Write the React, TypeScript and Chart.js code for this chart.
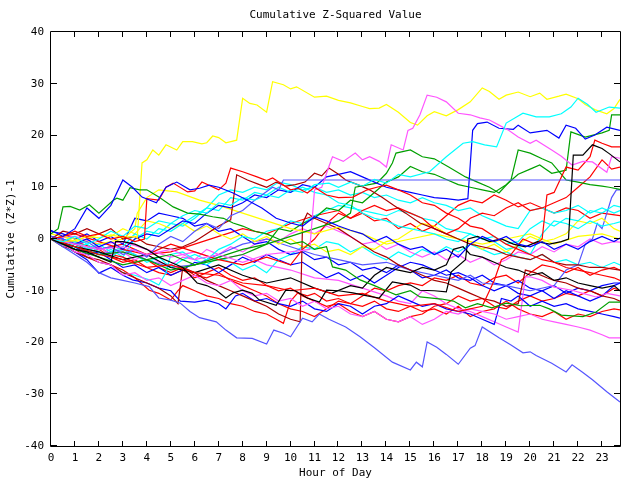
import React, { useEffect, useRef } from "react";
import { Chart, registerables } from "chart.js";

Chart.register(...registerables);

const TITLE = "Cumulative Z-Squared Value";
const X_TITLE = "Hour of Day";
const Y_TITLE = "Cumulative (Z*Z)-1";
const HOUR_TICKS = [0, 1, 2, 3, 4, 5, 6, 7, 8, 9, 10, 11, 12, 13, 14, 15, 16, 17, 18, 19, 20, 21, 22, 23];
const VALUE_TICKS = [-40, -30, -20, -10, 0, 10, 20, 30, 40];
const X_MAX = 23.75;

// each series: [hour, value, hour, value, ...]
const yellowTop = [0,0, 0.5,-0.5, 1,-0.3, 1.5,0.5, 2,0.2, 2.5,0.8, 3,0.3, 3.5,0.5, 3.6,0.2, 3.8,14.7, 4,15.3, 4.25,17.2, 4.5,16.2, 4.8,18.2, 5.25,17.2, 5.5,18.8, 5.9,18.8, 6.3,18.4, 6.5,18.6, 6.75,19.9, 7,19.6, 7.3,18.6, 7.75,19.1, 8,27.2, 8.3,26.2, 8.6,25.9, 9,24.5, 9.25,30.4, 9.7,29.8, 10,29, 10.25,29.4, 11,27.4, 11.5,27.6, 12,26.8, 12.5,26.3, 13,25.6, 13.3,25.2, 13.7,25.3, 14,26, 14.5,24.5, 15,22.5, 15.3,22, 15.7,23.8, 16,24.6, 16.5,23.8, 17,25, 17.5,26.5, 18,29.2, 18.3,28.5, 18.7,27, 19,27.8, 19.5,28.4, 20,27.5, 20.4,28.2, 20.7,27, 21.2,27.6, 21.5,28, 22,27.1, 22.3,26, 22.7,25, 23.2,24.2, 23.5,25.2, 23.75,27];
const slateLow = [0,0, 0.5,-1.5, 1,-3, 1.5,-4.5, 2,-6.5, 2.5,-7.5, 3,-8, 3.5,-8.5, 4.1,-9.2, 4.5,-11.4, 5,-11.8, 5.4,-12.4, 5.8,-14, 6.2,-15.2, 6.9,-16, 7.3,-17.6, 7.75,-19.1, 8.4,-19.2, 9,-20.3, 9.3,-17.6, 9.7,-18.2, 10,-18.9, 10.5,-15.3, 10.9,-16, 11.2,-14.5, 11.6,-15.5, 12.3,-17, 12.9,-18.9, 13.5,-21, 14.25,-23.8, 15,-25.3, 15.25,-23.8, 15.5,-24.7, 15.7,-19.9, 16.1,-20.9, 16.5,-22.3, 17,-24.2, 17.5,-21.1, 17.7,-20.6, 18,-17, 18.7,-19.1, 19.2,-20.5, 19.7,-22, 20,-21.8, 20.25,-22.5, 20.9,-24, 21.5,-25.7, 21.75,-24.3, 22.2,-25.8, 22.6,-27.2, 23.2,-29.5, 23.75,-31.5];
const slateFlat = [0,0.5, 0.5,0, 1,-1, 1.5,-0.5, 2,-2, 2.5,-1.5, 3,-3, 3.5,-2, 4,-3.5, 4.5,-1, 5,0.5, 5.5,-0.5, 6,1.5, 6.5,3, 7,2, 7.5,4.5, 8,5.5, 8.5,7.5, 8.8,8.5, 9.25,10, 9.5,9.5, 9.7,11.4, 23.75,11.4];
const cyanHigh = [0,0, 0.5,-0.5, 1,0.5, 1.5,-1, 2,0, 2.5,1.5, 3,0.5, 3.5,2.5, 4,2, 4.5,3.5, 5,3, 5.5,4.5, 6,5.5, 6.5,5, 7,7, 7.5,6.5, 8,8, 8.5,7.5, 9,8.5, 9.5,8, 10,9.5, 10.5,9, 11,10.5, 11.6,10.8, 12,10, 12.5,11, 13,10.2, 13.5,11.5, 14,10.8, 14.5,12.5, 15,12, 15.8,13, 16.5,15.9, 17.2,18.5, 17.6,18.8, 18.1,18.2, 18.6,17.8, 19,22.4, 19.7,24.3, 20.25,23.6, 20.8,23.6, 21.3,24.2, 21.7,25.5, 22,27.2, 22.4,26, 22.75,24.5, 23.3,25.5, 23.75,25.3];
const magentaHigh = [0,0, 1,-1, 2,-2, 3,-1.5, 4,-3, 5,-2, 6,-4, 7,-3, 8,-4.5, 9,-3, 10,-2.5, 10.8,-2, 11,9.5, 11.3,10, 11.6,14, 11.75,15.9, 12.2,15, 12.7,16.6, 13,15.3, 13.3,15.9, 13.7,15, 14,13.9, 14.2,18.2, 14.7,17.2, 14.9,21, 15.1,21.4, 15.4,24, 15.7,27.8, 16.1,27.4, 16.5,26.5, 17,24.3, 17.5,24, 17.9,23.4, 18.3,23, 18.7,22, 19.1,21, 19.5,19.7, 20,18.5, 20.25,19.1, 20.9,17.2, 21.3,16, 21.75,14.3, 22.2,15, 22.6,14.9, 23.2,12.9, 23.4,15.9, 23.75,15.6];
const blueHigh = [0,0.5, 0.5,0, 1,-1, 1.5,0, 2,-1.5, 2.5,-0.5, 3,-2, 3.5,0, 4,1, 4.5,0.5, 5,2, 5.5,3.5, 6,3, 6.5,5, 7,6.5, 7.5,6, 8,7, 8.5,8.5, 9,8, 9.5,9.5, 10,9, 10.5,10.5, 11,10, 11.5,12, 12,12.5, 12.5,13, 13,12, 13.5,11, 14,10, 14.5,9.5, 15,9, 15.5,8.5, 16,8, 16.5,7.8, 17,7.5, 17.4,7.8, 17.6,21, 17.8,22.3, 18.2,22.6, 18.7,21.4, 19.3,21.2, 19.5,22, 20,20.5, 20.7,21, 21.2,19.5, 21.5,22, 21.9,21.4, 22.3,19.3, 22.7,20.1, 23.2,21.6, 23.75,21];
const greenTop = [0,0, 1,-1.5, 2,-3, 3,-2.5, 4,-4, 5,-3, 6,-5, 7,-4, 8,-3, 8.5,-2, 9,-1, 9.5,2, 10,1.5, 10.5,3, 11,4, 11.5,6, 12,5.5, 12.5,7.5, 13,7, 13.5,9, 14,11, 14.5,12, 15,14, 15.5,13, 16,12.5, 16.5,11.5, 17,10.5, 17.5,10, 18,9.5, 18.5,9, 19,10.5, 19.5,12.5, 20,13.5, 20.4,14.3, 20.9,12.7, 21.5,13.3, 21.7,20.7, 22.3,19.7, 23,20.5, 23.3,21, 23.4,24, 23.75,24];
const greenMid = [0,0, 1,-2, 2,-3.5, 3,-5, 4,-4, 5,-6, 6,-5, 7,-3.5, 8,-2, 9,-1, 10,0.5, 11,2, 12,3.5, 12.5,5, 12.7,10, 13.6,10.8, 14,12.7, 14.25,14.7, 14.4,16.6, 15,17.2, 15.5,15.9, 16,15.5, 16.6,13.9, 17.3,12, 17.8,11, 18.3,10, 18.7,8.9, 19.2,11.4, 19.5,17.2, 20,16.6, 20.5,15.5, 20.9,14.7, 21.5,11.4, 22,11, 22.5,10.5, 23,10.2, 23.3,10, 23.75,9.6];
const greenEarly = [0,1, 0.3,2, 0.5,6.2, 0.8,6.3, 1.2,5.6, 1.6,6.6, 2,5, 2.6,7.5, 2.75,7.9, 3,7.5, 3.3,9.9, 3.7,9.5, 4,9.5, 4.5,8.1, 5.1,6.2, 5.7,5, 6.2,4.8, 6.75,4.3, 7.2,4, 7.6,3.1, 8,2.5, 8.5,1.5, 9,1, 9.5,0, 10,-1, 10.5,-0.5, 11,-2, 11.5,-1.5, 11.75,-5.4, 12.3,-6, 12.9,-7.9, 13.5,-9, 14,-10, 14.4,-10.8, 15,-10, 15.4,-11.2, 16.3,-11.6, 16.8,-12, 17.3,-13.3, 17.8,-12.5, 18.4,-13.3, 19,-12.4, 19.6,-12.9, 20.4,-12.8, 20.8,-13.5, 21.3,-14.7, 22.2,-15, 22.75,-14.1, 23.3,-12.2, 23.75,-12.2];
const redTop = [0,0, 0.5,0.5, 1,1.5, 1.5,0.5, 2,1, 2.5,0, 3,0.5, 3.5,-0.5, 3.9,0, 4,7.8, 4.5,7.5, 4.8,10, 5.1,10.8, 5.7,9.1, 6,9.3, 6.3,11, 7,9.5, 7.3,10.8, 7.5,13.7, 8,13, 8.6,12, 9,11.3, 9.25,11.8, 10,9.5, 10.3,9.8, 10.7,8.9, 11,10, 11.5,8.5, 12,8, 12.6,8.1, 13.2,9.5, 13.6,10, 14,10.4, 14.5,9.5, 15,8.5, 15.5,7, 16,6.5, 16.5,5, 17,4, 17.5,2.5, 18,2, 18.5,0.5, 19,-1, 19.5,-2, 20,-3, 20.5,-4, 21,-4.5, 21.5,-5.5, 22,-6, 22.5,-6.5, 23,-7, 23.5,-7.5, 23.75,-8];
const darkRedTop = [0,0, 0.5,1.5, 1,1, 1.5,2, 2,1, 2.5,2, 3,0, 3.5,0.5, 4,-1, 4.5,-1.5, 5,-2, 5.5,-1.5, 6,-0.5, 6.5,1, 7,2.5, 7.5,3.7, 7.75,12.4, 8.2,11.4, 8.7,10.5, 9,10, 9.4,11, 9.8,10.2, 10.2,10.5, 10.6,11, 11,12.7, 11.3,12.2, 11.6,13.7, 12,12.5, 12.3,11.4, 12.8,10.5, 13.3,9.5, 13.8,8.1, 14.3,6.5, 14.8,5, 15.4,3.1, 16,2, 16.5,1, 17,0, 17.5,-1, 18,-1.5, 18.5,-2, 19,-3, 19.5,-3.5, 20,-4, 20.5,-3, 21,-4.5, 21.5,-5, 22,-5, 22.5,-5.5, 23,-5.5, 23.75,-6];
const redJump = [0,0, 1,-1.5, 2,-3, 3,-4, 4,-5.5, 5,-5, 6,-6.5, 7,-7, 8,-8.5, 9,-9, 10,-10, 11,-9.5, 12,-11, 13,-10.5, 14,-12, 15,-13, 16,-12.5, 17,-14, 18,-13, 18.5,-8, 18.8,-4, 19.2,-3, 19.7,0, 20.2,-1, 20.5,0, 20.7,8.5, 21,9, 21.5,13.9, 22,13.3, 22.5,15.9, 22.7,19.1, 23,18.5, 23.4,17.8, 23.75,17.8];
const redMid = [0,0, 1,1, 2,-0.5, 3,-2, 4,-3, 5,-1, 6,-2.5, 7,-4, 8,-5, 9,-3.5, 10,-5, 10.5,-2, 11,0, 11.5,3, 12,5, 12.5,4, 13,5.5, 13.5,6.5, 14,5.5, 14.5,6, 15,5, 15.5,4, 16,2, 16.5,1, 17,2, 17.5,4, 18,5, 18.5,4.5, 19,6, 19.5,7, 20,5.5, 20.5,6, 21,7, 21.5,8, 22,10, 22.5,12, 23,15.3, 23.4,13.5, 23.75,13.9];
const redUpper = [0,0, 1,-0.5, 2,-2, 3,-1, 4,-3, 5,-2.5, 6,-1, 7,0.5, 8,2, 9,1, 10,3, 11,4.5, 12,5.5, 12.5,4, 13,5, 13.5,3.5, 14,4, 14.5,2, 15,3, 15.5,1.5, 16,2.5, 16.5,4.5, 17,6.5, 17.5,7.5, 18,7, 18.5,8.5, 19,7.5, 19.5,6.2, 20,7, 20.5,6, 21,5, 21.5,6, 22,5.5, 22.5,4, 23,5, 23.75,4.5];
const blackJump = [0,0, 0.5,-1, 1,-2, 1.5,-2.5, 2,-3.5, 2.5,-4.5, 2.7,-0.5, 3,-0.5, 3.5,-1, 4,-2, 4.5,-3.5, 5,-4.5, 5.5,-5.5, 6.1,-8.5, 6.5,-9, 6.9,-9.9, 7.3,-11.4, 7.6,-10.4, 8,-9.9, 8.4,-10.5, 8.7,-11.8, 9.4,-12.8, 9.8,-9.9, 10.2,-10, 10.7,-11.4, 11.2,-12.2, 11.5,-9.9, 12,-10, 12.6,-10.4, 13.2,-11, 13.7,-11.4, 14.25,-8.3, 15,-8.9, 15.4,-9.9, 16,-10, 16.5,-10.2, 16.7,-6.4, 17.3,-4, 17.4,0, 17.8,0.5, 18.3,-0.5, 18.8,0, 19.3,-1, 19.8,-1.5, 20.3,-0.5, 20.8,-1, 21.3,-0.5, 21.6,0, 21.8,16.2, 22.2,16.2, 22.6,18.2, 23,17.5, 23.3,16.5, 23.75,14.9];
const blackLow = [0,0, 1,-1.5, 2,-2.5, 3,-4, 4,-3, 5,-5.5, 6,-6.5, 7,-5, 8,-7, 9,-8.5, 10,-7.5, 11,-9.5, 11.7,-10.5, 12.5,-9, 13,-9.5, 13.5,-7, 14,-5.5, 14.5,-6, 15,-6.5, 15.5,-5.5, 16,-6, 16.5,-5, 16.8,-2, 17.2,-1.5, 17.5,-3, 18,-3.5, 18.5,-4.5, 19,-5.5, 19.5,-6, 20,-7, 20.5,-6.5, 21,-8, 21.5,-7.5, 22,-8.5, 22.5,-9, 23,-9.5, 23.5,-9, 23.75,-10];
const blueLow = [0,0, 0.5,-1, 1,-2.5, 1.5,-4, 2,-6.6, 2.5,-5.5, 3,-7, 3.4,-7.9, 4,-8.5, 4.5,-9.5, 5,-10, 5.4,-12, 6,-12.2, 6.5,-11.8, 7,-12.5, 7.3,-13.5, 7.7,-11, 8,-10.5, 8.5,-12, 9,-11.5, 9.5,-12.5, 10,-13, 10.5,-12, 11,-13.5, 11.5,-14, 12,-12.5, 12.5,-13, 13,-14.5, 13.5,-13, 14,-12.5, 14.5,-11, 15,-12, 15.5,-13, 16,-12.5, 16.5,-13.5, 17,-14, 17.5,-14.5, 18,-15.5, 18.5,-16.5, 18.8,-11.5, 19.2,-12, 19.5,-11, 20,-13, 20.5,-12, 21,-13, 21.5,-12.5, 22,-13.5, 22.5,-14, 23,-14.5, 23.5,-15, 23.75,-15.3];
const magentaLow = [0,0, 0.5,-1, 1,-2.5, 1.5,-3, 2,-4.5, 2.5,-5, 3,-7, 3.5,-6.5, 4,-8, 4.5,-7.5, 5,-9, 5.5,-8, 6,-7, 6.5,-8.5, 7,-9, 7.5,-8, 8,-10, 8.5,-11, 9,-10.5, 9.5,-12, 10,-11.5, 10.5,-13, 11,-12, 11.5,-13.5, 12,-13, 12.5,-14.5, 13,-15, 13.5,-14, 14,-15.5, 14.5,-16, 15,-15, 15.5,-16.5, 16,-15.5, 16.5,-14, 17,-14.5, 17.5,-13.5, 18,-14, 18.5,-14.5, 19,-15.5, 19.5,-15, 20,-14.5, 20.5,-15.5, 21,-16, 21.5,-16.5, 22,-17, 22.5,-17.6, 23,-18.5, 23.3,-19.1, 23.75,-19.1];
const magentaJump = [0,0, 1,0.5, 2,-1, 3,-0.5, 4,-2, 5,-3.5, 6,-2.5, 7,-4, 8,-3, 9,-5, 10,-6, 11,-7.5, 12,-8, 13,-9.5, 14,-11, 14.5,-12, 15,-12.5, 15.5,-10, 16,-11, 16.5,-12.5, 17,-13.5, 17.5,-14, 18,-15, 18.5,-16, 19,-17, 19.5,-18, 19.8,-7.3, 20,-7.3, 20.5,-8, 21,-9.3, 21.75,-9.9, 22.2,-10.5, 22.75,-11.2, 23.2,-10.5, 23.75,-11];
const cyanUpper = [0,0, 0.5,-0.5, 1,-2, 1.5,-1.5, 2,-3, 2.5,-2, 3,-3.5, 3.5,0, 4,1.5, 4.5,1, 5,3, 5.5,2.5, 6,4, 6.5,6, 7,8.5, 7.5,9.5, 8,9, 8.5,10, 9,9.5, 9.5,11, 10,10.5, 10.5,9.5, 11,10, 11.5,9, 12,9.5, 12.5,8.5, 13,9, 13.5,8, 14,8.5, 14.5,7.5, 15,7, 15.5,8, 16,7, 16.5,6.5, 17,5.5, 17.5,6, 18,4.5, 18.5,3.5, 19,2.5, 19.5,2, 20,5.5, 20.5,6, 21,5, 21.5,5.5, 22,6.5, 22.5,5, 23,6, 23.5,5, 23.75,5.5];
const cyanMidA = [0,0, 0.5,-1, 1,-0.5, 1.5,-2, 2,-1, 2.5,-2.5, 3,-1.5, 3.5,1, 4,0, 4.5,2, 5,1.5, 5.5,3, 6,4.5, 6.5,6, 7,5.5, 7.5,8, 8,7.5, 8.5,9, 9,8.5, 9.5,10, 10,9, 10.5,10, 11,9, 11.5,8.5, 12,7, 12.5,6.5, 13,5, 13.5,4, 14,3.5, 14.5,2.5, 15,2, 15.5,1.5, 16,1, 16.5,0, 17,-0.5, 17.5,1, 18,0, 18.5,0.5, 19,-1, 19.5,-0.5, 20,2, 20.5,3.5, 21,2.5, 21.5,4, 22,3.5, 22.5,5.5, 23,5, 23.5,6.5, 23.75,6.2];
const cyanMidB = [0,0.5, 0.5,0, 1,-1.5, 1.5,-1, 2,-2.5, 2.5,-3.5, 3,-2, 3.5,-3, 4,-4.5, 4.5,-3.5, 5,-5.5, 5.5,-4, 6,-3, 6.5,-4, 7,-2, 7.5,-1, 8,0.5, 8.5,0, 9,1.5, 9.5,2, 10,3.5, 10.5,3, 11,4.5, 11.5,5.5, 12,6.5, 12.5,6, 13,5.5, 13.5,5, 14,4.5, 14.5,5.5, 15,5, 15.5,4, 16,3.5, 16.5,2, 17,1.5, 17.5,1, 18,0, 18.5,-0.5, 19,-2, 19.5,-1.5, 20,-3, 20.5,1, 21,3.5, 21.5,3, 22,2, 22.5,3.5, 23,2.5, 23.5,3, 23.75,3.3];
const cyanLow = [0,0, 0.5,-1.5, 1,-2.5, 1.5,-3.5, 2,-4.5, 2.5,-5, 3,-6.5, 3.5,-7, 4.1,-7.9, 4.5,-8.9, 4.8,-6.5, 5,-3, 5.5,-2.5, 6,-4, 6.5,-5, 7,-3.5, 7.5,-4.5, 8,-6, 8.5,-5, 9,-6.5, 9.5,-4, 10,-3, 10.5,-1.5, 11,-2, 11.5,-0.5, 12,-1, 12.5,-2.5, 13,-1.5, 13.5,-3, 14,-4, 14.5,-2.5, 15,-3.5, 15.5,-2, 16,-3, 16.5,-1.5, 17,-2.5, 17.5,-1, 18,-2, 18.5,-3, 19,-2.5, 19.5,-3.5, 20,-4, 20.5,-3, 21,-4.5, 21.5,-4, 22,-5, 22.5,-4.5, 23,-5.5, 23.5,-4.5, 23.75,-5];
const redLowA = [0,0, 0.5,-1.5, 1,-2, 1.5,-3.5, 2,-4.5, 2.5,-5, 3,-6, 3.5,-7.5, 4.1,-9.9, 4.5,-10.5, 5,-11.8, 5.3,-10, 5.5,-9, 6,-10, 6.5,-11, 7,-11.5, 7.5,-12.5, 8,-13, 8.5,-14, 9,-14.5, 9.4,-15.5, 9.7,-16.3, 10,-12, 10.3,-10.4, 10.7,-11, 11,-10.5, 11.5,-12, 12,-11.5, 12.5,-12.5, 13,-13, 13.5,-12, 14,-13.5, 14.5,-14, 15,-13, 15.5,-14, 16,-13.5, 16.5,-14.5, 17,-13, 17.5,-15, 18,-14, 18.5,-13.5, 19,-12, 19.5,-13.5, 20,-14.5, 20.5,-15, 21,-14, 21.5,-15.5, 22,-14.5, 22.5,-15, 23,-14, 23.5,-13.5, 23.75,-13.7];
const redLowB = [0,0, 0.5,-0.5, 1,-1, 1.5,-2, 2,-1.5, 2.5,-3, 3,-3.5, 3.5,-4.5, 4,-4, 4.5,-5.5, 5,-6.5, 5.5,-5.5, 6,-7, 6.5,-7.5, 7,-6.5, 7.5,-8, 8,-9, 8.5,-10, 9,-11, 9.5,-12.5, 10,-13.5, 10.5,-14, 11,-15, 11.5,-13.5, 12,-12, 12.5,-12.5, 13,-11, 13.5,-9.5, 14,-10, 14.5,-9, 15,-8.5, 15.5,-9, 16,-7.5, 16.5,-8, 17,-7, 17.5,-8.5, 18,-9, 18.5,-7.5, 19,-7, 19.5,-8.5, 20,-6.5, 20.5,-5, 21,-5.5, 21.5,-6.5, 22,-5.5, 22.5,-7, 23,-6, 23.5,-5.5, 23.75,-6];
const redLowC = [0,0, 0.5,-1, 1,-1.5, 1.5,-2.5, 2,-2, 2.5,-3.5, 3,-4.5, 3.5,-4, 4,-5.5, 4.5,-6.5, 5,-7, 5.5,-6, 6,-7.5, 6.5,-6.5, 7,-5.5, 7.5,-7, 8,-8, 8.5,-7.5, 9,-9, 9.5,-10, 10,-9.5, 10.5,-11, 11,-12, 11.5,-13, 12,-12.5, 12.5,-14, 13,-15, 13.5,-14, 14,-15.5, 14.5,-16, 15,-15, 15.5,-14.5, 16,-13, 16.5,-12.5, 17,-11, 17.5,-12, 18,-11.5, 18.5,-13, 19,-13.5, 19.5,-12, 20,-11, 20.5,-12, 21,-11.5, 21.5,-10.5, 22,-11, 22.5,-10, 23,-11, 23.5,-9.5, 23.75,-10];
const darkRedLow = [0,0, 0.5,-1, 1,-2.5, 1.5,-3.5, 2,-4, 2.5,-5, 3,-6.5, 3.5,-7.5, 4,-8.5, 4.5,-9.5, 5,-11, 5.3,-12.5, 5.5,-5.5, 6,-6.5, 6.5,-8, 7,-9, 7.5,-10, 8,-11, 8.5,-12, 9,-13, 9.5,-14.5, 10,-15.5, 10.4,-16, 10.5,3, 10.7,5, 11,4, 11.5,3, 12,2, 12.5,0.5, 13,-1, 13.5,-2.5, 14,-3.5, 14.5,-5, 15,-6, 15.5,-7, 16,-8, 16.5,-8.5, 17,-9.5, 17.5,-10.5, 18,-11.5, 18.5,-12, 19,-13, 19.5,-12.5, 19.8,-6, 20.2,-6.5, 20.7,-7.5, 21,-8, 21.5,-8.5, 22,-9.5, 22.5,-10, 23,-11, 23.5,-11.5, 23.75,-12];
const blueMidA = [0,1.5, 0.5,1, 1,0, 1.5,1, 2,-0.5, 2.5,0.5, 3,-1, 3.5,4, 4,3.5, 4.5,5, 5,4.5, 5.5,4, 6,2.5, 6.5,3, 7,1.5, 7.5,2, 8,0.5, 8.5,-1, 9,-0.5, 9.5,-2, 10,-3, 10.5,-2.5, 11,-4, 11.5,-3.5, 12,-5, 12.5,-4.5, 13,-6, 13.5,-5.5, 14,-6.5, 14.5,-5, 15,-6, 15.5,-7.5, 16,-7, 16.5,-6, 17,-7.5, 17.5,-8, 18,-7, 18.5,-8.5, 19,-9, 19.5,-8, 20,-9.5, 20.5,-10, 21,-9, 21.5,-10.5, 22,-9.5, 22.5,-10, 23,-9, 23.5,-8.5, 23.75,-8.5];
const bluePeak = [0,1.7, 0.5,0.5, 1,2, 1.5,6, 2,4, 2.5,6.5, 3,11.4, 3.4,10, 3.8,8.1, 4.4,7, 4.8,10, 5.25,11, 5.8,9.5, 6.2,9.8, 6.6,10.4, 7,10, 7.6,8.9, 8.2,7.5, 8.8,6, 9.4,4, 10,3.1, 10.5,2.5, 11,4.3, 11.5,3.5, 12,2.5, 12.5,1.7, 13,1, 13.5,-0.5, 14,0.5, 14.5,-1, 15,-2, 15.5,-1.5, 16,-3, 16.5,-2, 17,-3.5, 17.5,-1, 18,0.5, 18.5,-0.5, 19,0.5, 19.5,-1, 20,-1.5, 20.5,-0.5, 21,-2, 21.5,-1, 22,-2, 22.5,-0.5, 23,0.5, 23.5,-0.5, 23.75,0.2];
const slateRise = [0,0, 1,-1.5, 2,-3, 3,-2, 4,-4, 5,-5.5, 6,-5, 7,-3, 8,-1, 9,0, 10,-1.5, 11,-3, 12,-4, 13,-5, 14,-4.5, 15,-6, 16,-7, 17,-8, 17.5,-7, 18,-8.5, 19,-9, 20,-10, 21,-9, 21.5,-6, 22,-5, 22.3,-1, 22.6,0, 22.8,3, 23,2, 23.2,5, 23.4,8, 23.6,9.5, 23.75,9.5];
const blueLowB = [0,0, 0.5,-1, 1,-1.5, 1.5,-3, 2,-2.5, 2.5,-4, 3,-5.5, 3.5,-5, 4,-6.5, 4.5,-5.5, 5,-7, 5.5,-6, 6,-4.5, 6.5,-5, 7,-6.5, 7.5,-5, 8,-3.5, 8.5,-4.5, 9,-3, 9.5,-4, 10,-5, 10.5,-4.5, 11,-6, 11.5,-7.5, 12,-6.5, 12.5,-8, 13,-7, 13.5,-8.5, 14,-7, 14.5,-5.5, 15,-4.5, 15.5,-5, 16,-6, 16.5,-7, 17,-6.5, 17.5,-7.5, 18,-9, 18.5,-10, 19,-9, 19.5,-10.5, 20,-11, 20.5,-10, 21,-11.5, 21.5,-10, 22,-11, 22.5,-12, 23,-11, 23.5,-9, 23.75,-8.5];
const yellowMid = [0,1, 1,0, 2,-1, 3,0, 3.5,2, 3.6,5, 4,8, 4.5,9.5, 5.25,9.1, 6.2,7.5, 7,6.5, 8,5, 9,3.5, 10,2, 11,1, 12,2.3, 13,1, 14,-1, 15,0, 16,1, 17,0, 18,-1, 19,0, 20,1, 21,-1, 22,0.5, 23,1, 23.75,0];
const yellowLow = [0,0, 0.5,0.5, 1,-0.5, 1.5,0, 2,1, 2.5,0.5, 3,2, 3.5,1, 4,3.5, 4.5,3, 5,2, 5.5,3, 6,1.5, 6.5,2.5, 7,1, 7.5,0, 8,1, 8.5,-0.5, 9,0.5, 9.5,-1, 10,0, 10.5,-1.5, 11,-1, 11.5,-2.5, 12,-2, 12.5,-3, 13,-1.5, 13.5,-2, 14,-0.5, 14.5,0, 15,1.5, 15.5,3, 16,2.5, 16.5,1, 17,0, 17.5,-0.5, 18,-2, 18.5,-1, 19,-2.5, 19.5,-1, 20,0.5, 20.5,-0.5, 21,0, 21.5,1, 22,3.5, 22.5,3, 23,4, 23.5,2, 23.75,1.5];
const magentaMid = [0,0, 0.5,-1, 1,-0.5, 1.5,-2, 2,-1.5, 2.5,-3, 3,-2.5, 3.5,-4, 4,-3, 4.5,-4.5, 5,-5, 5.5,-3.5, 6,-4, 6.5,-2, 7,-3, 7.5,-1.5, 8,-2.5, 8.5,-1, 9,0, 9.5,-0.5, 10,1, 10.5,2, 11,1, 11.5,2.5, 12,1.5, 12.5,0.5, 13,-1, 13.5,-0.5, 14,-2, 14.5,-1, 15,-2.5, 15.5,-3.5, 16,-2.5, 16.5,-4, 17,-3, 17.5,-4.5, 18,-3.5, 18.5,-5, 19,-4, 19.5,-2.5, 20,-3, 20.5,-1.5, 21,-2.5, 21.5,-1, 22,-1.5, 22.5,0, 23,-1, 23.5,-0.5, 23.75,-0.6];

const COLORS = {
  red: "#ff0000",
  blue: "#0000ff",
  green: "#00a000",
  black: "#000000",
  cyan: "#00ffff",
  magenta: "#ff55ff",
  yellow: "#ffff00",
  slate: "#5555ff",
  darkred: "#aa0000",
};

const SERIES: [number[], string][] = [
  [bluePeak, COLORS.blue],
  [redTop, COLORS.red],
  [greenEarly, COLORS.green],
  [blackJump, COLORS.black],
  [cyanHigh, COLORS.cyan],
  [magentaHigh, COLORS.magenta],
  [yellowTop, COLORS.yellow],
  [slateFlat, COLORS.slate],
  [darkRedTop, COLORS.darkred],
  [blueHigh, COLORS.blue],
  [redJump, COLORS.red],
  [greenMid, COLORS.green],
  [blackLow, COLORS.black],
  [cyanMidA, COLORS.cyan],
  [magentaLow, COLORS.magenta],
  [yellowMid, COLORS.yellow],
  [slateLow, COLORS.slate],
  [darkRedLow, COLORS.darkred],
  [blueLow, COLORS.blue],
  [redMid, COLORS.red],
  [greenTop, COLORS.green],
  [cyanMidB, COLORS.cyan],
  [magentaJump, COLORS.magenta],
  [yellowLow, COLORS.yellow],
  [slateRise, COLORS.slate],
  [blueMidA, COLORS.blue],
  [redLowA, COLORS.red],
  [cyanLow, COLORS.cyan],
  [magentaMid, COLORS.magenta],
  [blueLowB, COLORS.blue],
  [redLowB, COLORS.red],
  [redLowC, COLORS.red],
  [cyanUpper, COLORS.cyan],
  [redUpper, COLORS.red],
];

const FONT = '"DejaVu Sans Mono", monospace';

function toPoints(flat: number[]) {
  const pts: { x: number; y: number }[] = [];
  for (let i = 0; i + 1 < flat.length; i += 2) pts.push({ x: flat[i], y: flat[i + 1] });
  return pts;
}

const framePlugin = {
  id: "frame",
  afterDraw(chart: any) {
    const { ctx, chartArea } = chart;
    const { left, right, top, bottom } = chartArea;
    const xs = chart.scales.x;
    const ys = chart.scales.y;
    ctx.save();
    ctx.strokeStyle = "#000";
    ctx.lineWidth = 1;
    ctx.beginPath();
    ctx.rect(Math.round(left) - 0.5, Math.round(top) - 0.5, Math.round(right - left) + 1, Math.round(bottom - top) + 1);
    for (const v of HOUR_TICKS) {
      const px = Math.round(xs.getPixelForValue(v)) - 0.5;
      ctx.moveTo(px, bottom);
      ctx.lineTo(px, bottom - 5);
      ctx.moveTo(px, top);
      ctx.lineTo(px, top + 5);
    }
    for (const v of VALUE_TICKS) {
      const py = Math.round(ys.getPixelForValue(v)) - 0.5;
      ctx.moveTo(left, py);
      ctx.lineTo(left + 6, py);
      ctx.moveTo(right, py);
      ctx.lineTo(right - 6, py);
    }
    ctx.stroke();
    ctx.fillStyle = "#000";
    ctx.font = "11px " + FONT;
    ctx.textAlign = "center";
    ctx.textBaseline = "middle";
    ctx.fillText(TITLE, (left + right) / 2, 15.5);
    ctx.fillText(X_TITLE, (left + right) / 2, 473);
    ctx.translate(11.5, (top + bottom) / 2);
    ctx.rotate(-Math.PI / 2);
    ctx.fillText(Y_TITLE, 0, 0);
    ctx.restore();
  },
};

export default function App() {
  const ref = useRef<HTMLCanvasElement | null>(null);
  useEffect(() => {
    if (!ref.current) return;
    const chart = new Chart(ref.current, {
      type: "line",
      data: {
        datasets: SERIES.map(([flat, color]) => ({
          data: toPoints(flat),
          borderColor: color,
          backgroundColor: color,
          borderWidth: 1.2,
          pointRadius: 0,
          tension: 0,
          fill: false,
        })),
      },
      options: {
        animation: false,
        responsive: false,
        devicePixelRatio: 1,
        layout: { padding: { top: 32, right: 20, left: 0, bottom: 0 } },
        plugins: { legend: { display: false }, tooltip: { enabled: false }, title: { display: false } },
        scales: {
          x: {
            type: "linear",
            min: 0,
            max: X_MAX,
            grid: { display: false, drawTicks: false },
            border: { display: false },
            afterBuildTicks: (scale: any) => {
              scale.ticks = HOUR_TICKS.map((v) => ({ value: v }));
            },
            afterFit: (scale: any) => {
              scale.height = 34;
            },
            ticks: {
              autoSkip: false,
              maxRotation: 0,
              padding: 6,
              color: "#000",
              font: { family: FONT, size: 11 },
              callback: (v: any) => String(v),
            },
          },
          y: {
            type: "linear",
            min: -40,
            max: 40,
            grid: { display: false, drawTicks: false },
            border: { display: false },
            afterBuildTicks: (scale: any) => {
              scale.ticks = VALUE_TICKS.map((v) => ({ value: v }));
            },
            afterFit: (scale: any) => {
              scale.width = 51;
            },
            ticks: {
              autoSkip: false,
              padding: 7,
              color: "#000",
              font: { family: FONT, size: 11 },
              callback: (v: any) => String(v),
            },
          },
        },
      },
      plugins: [framePlugin],
    });
    return () => chart.destroy();
  }, []);
  return (
    <div style={{ position: "absolute", left: 0, top: 0, width: 640, height: 480, background: "#fff" }}>
      <canvas ref={ref} width={640} height={480} style={{ display: "block" }} />
    </div>
  );
}
